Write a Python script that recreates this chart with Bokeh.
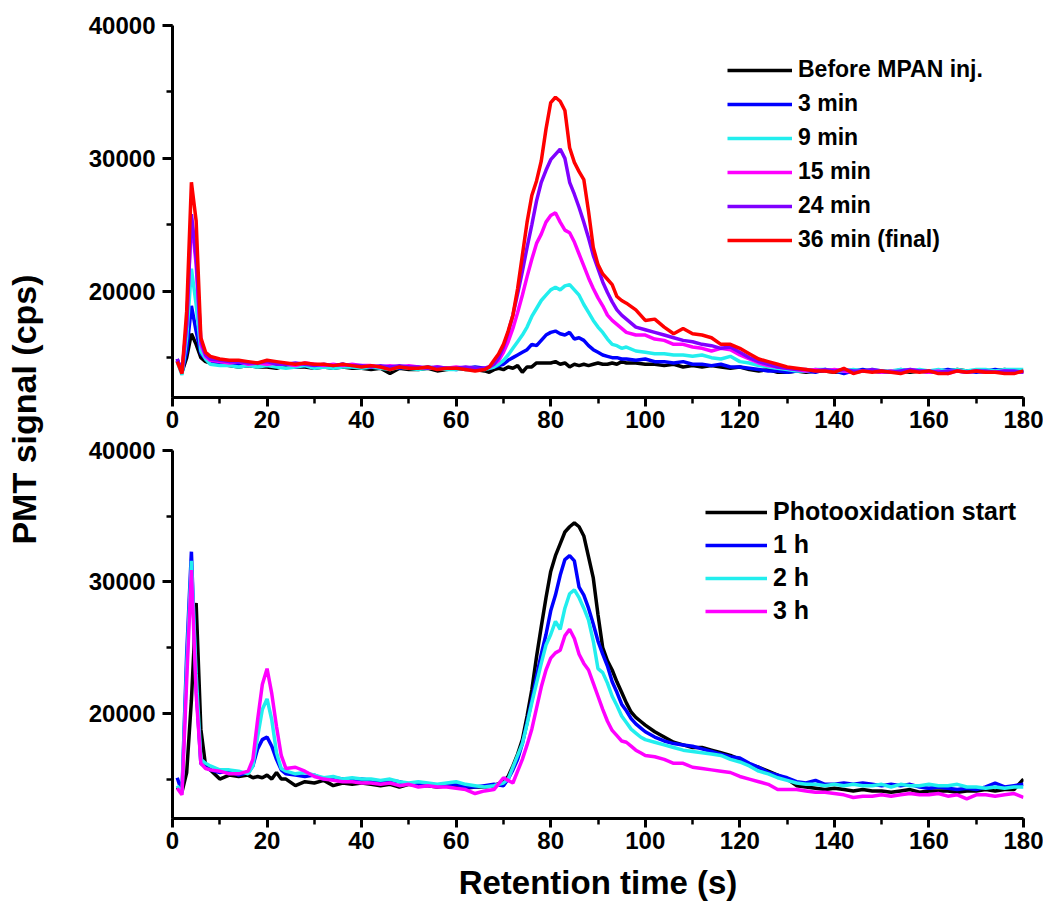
import math
from bokeh.plotting import figure
from bokeh.layouts import row, column
from bokeh.models import Range1d, SingleIntervalTicker, NumeralTickFormatter, Label
from bokeh.embed import file_html
from bokeh.resources import INLINE

# ---------------- data (retention time in s, PMT signal in cps) ----------------
x_top = list(range(1, 8)) + list(range(8, 67, 2)) + list(range(67, 96)) + list(range(96, 181, 2))

top_before = [14800, 13900, 15000, 16800, 16000, 15000, 14700,
              14600, 14500, 14400, 14300, 14400, 14300, 14300, 14200, 14400, 14300,
              14300, 14200, 14300, 14200, 14300, 14200, 14200, 14100, 14200, 13800,
              14200, 14100, 14100, 14200, 14000, 14100, 14200, 14100, 14100, 14000,
              13900, 14100, 14200, 14100, 14300, 14200, 14400, 13900, 14300, 14300,
              14600, 14600, 14600, 14600, 14700, 14500, 14600, 14300, 14500, 14400,
              14500, 14400, 14500, 14600, 14500, 14500, 14600, 14500, 14700,
              14600, 14600, 14500, 14500, 14400, 14500, 14300, 14400, 14300, 14400,
              14300, 14200, 14300, 14100, 14000, 14100, 13900, 13900, 14000, 13900,
              14000, 14000, 13900, 14000, 13900, 14000, 14000, 13900, 14000, 14000,
              13900, 14000, 14000, 13900, 14000, 14100, 14000, 14000, 13900, 14000,
              14100, 14000, 13900]
top_3min = [14900, 13900, 15500, 18900, 17000, 15300, 14900,
            14700, 14600, 14500, 14500, 14400, 14600, 14500, 14400, 14500, 14300,
            14400, 14400, 14300, 14400, 14500, 14300, 14300, 14400, 14200, 14300,
            14200, 14300, 14200, 14300, 14200, 14200, 14100, 14200, 14300, 14200,
            14200, 14300, 14400, 14500, 14800, 15000, 15200, 15400, 15600, 16000,
            15900, 16300, 16700, 16900, 17000, 16800, 16700, 16900, 16400, 16500,
            16300, 15900, 15600, 15400, 15200, 15100, 15000, 15000, 14900,
            14900, 14800, 14900, 14700, 14700, 14600, 14700, 14500, 14500, 14400,
            14500, 14300, 14300, 14200, 14100, 14000, 14000, 13900, 14000, 14000,
            13900, 14100, 14000, 13800, 14000, 14100, 14000, 14000, 13900, 14100,
            14000, 14000, 13900, 14000, 14100, 14000, 14000, 13900, 14000, 14100,
            14000, 13900, 14000]
top_9min = [14700, 13700, 16500, 21700, 19000, 15500, 14900,
            14500, 14400, 14400, 14300, 14400, 14300, 14400, 14300, 14200, 14300,
            14400, 14200, 14300, 14200, 14300, 14300, 14200, 14300, 14200, 14100,
            14300, 14200, 14100, 14200, 14200, 14100, 14100, 14200, 14200, 14100,
            14200, 14300, 14500, 14800, 15200, 15700, 16200, 16700, 17300, 18100,
            18700, 19300, 19700, 20100, 20300, 20100, 20400, 20500, 20100, 19700,
            19000, 18400, 17800, 17300, 16900, 16400, 16000, 15900, 15700,
            15800, 15500, 15400, 15300, 15300, 15200, 15200, 15100, 15200, 15000,
            14900, 15100, 14700, 14600, 14400, 14300, 14200, 14100, 14000, 14000,
            14100, 14100, 14000, 14000, 14100, 14000, 14100, 14000, 14000, 14100,
            14000, 14100, 14000, 14100, 14000, 14100, 14000, 14100, 14100, 14000,
            14100, 14100, 14100]
top_15min = [14800, 13900, 17500, 25500, 22000, 16000, 15100,
             14800, 14700, 14600, 14700, 14500, 14600, 14500, 14600, 14500, 14400,
             14600, 14500, 14400, 14500, 14400, 14500, 14400, 14400, 14300, 14400,
             14300, 14400, 14300, 14200, 14300, 14200, 14300, 14200, 14100, 14200,
             14300, 14500, 14800, 15400, 16200, 17200, 18400, 19700, 21100, 22400,
             23600, 24300, 25200, 25700, 25900, 25200, 24600, 24400, 23700, 22800,
             21900, 21000, 20200, 19500, 18900, 18200, 17800, 17500, 17200,
             16900, 16700, 16700, 16400, 16300, 16000, 16000, 15800, 15700, 15500,
             15700, 15600, 15200, 14900, 14600, 14400, 14300, 14200, 14100, 14000,
             14100, 14000, 14100, 14000, 13900, 14000, 14000, 13900, 14000, 13900,
             14100, 14000, 13900, 14000, 13800, 14000, 13900, 14000, 13900, 13900,
             14000, 13900, 13900]
top_24min = [14900, 13900, 17500, 25800, 22500, 16300, 15200,
             14900, 14800, 14700, 14700, 14600, 14600, 14700, 14500, 14500, 14600,
             14500, 14400, 14500, 14400, 14500, 14400, 14400, 14300, 14400, 14300,
             14400, 14300, 14300, 14200, 14300, 14200, 14200, 14300, 14200, 14200,
             14300, 14500, 15000, 15800, 16900, 18200, 19800, 21500, 23300, 25000,
             26800, 28200, 29100, 29900, 30300, 30700, 30000, 28200, 27300, 26300,
             25200, 24000, 22700, 21700, 20700, 19900, 19200, 18600, 18200,
             17900, 17300, 17100, 16900, 16700, 16500, 16300, 16200, 16000, 15900,
             15700, 15800, 15400, 15000, 14700, 14500, 14300, 14200, 14100, 14100,
             14000, 14100, 14000, 14100, 14000, 14000, 14100, 14000, 13900, 14000,
             14100, 14000, 14000, 13900, 14000, 14000, 13900, 14000, 14000, 13900,
             14000, 14000, 13900]
top_36min = [14700, 13800, 18500, 28200, 25300, 16500, 15400,
             15100, 14900, 14800, 14800, 14700, 14600, 14800, 14700, 14600, 14500,
             14600, 14500, 14500, 14400, 14500, 14400, 14300, 14400, 14300, 14100,
             14300, 14200, 14200, 14300, 14100, 14200, 14200, 14100, 14000, 14100,
             14300, 14800, 15300, 16000, 17000, 18200, 20200, 22700, 25200, 27200,
             28300, 29800, 32200, 34200, 34600, 34300, 33600, 30800, 29700, 29000,
             28400, 26000, 23300, 22000, 21300, 20900, 20500, 19600, 19300,
             19100, 18600, 17800, 17900, 17300, 16800, 17200, 16800, 16700, 16500,
             16000, 16000, 15700, 15300, 14900, 14700, 14500, 14300, 14200, 14100,
             14000, 14000, 13900, 14200, 13800, 14000, 13900, 14000, 13900, 13800,
             14000, 13900, 14000, 13800, 13800, 14000, 13900, 14000, 13900, 13900,
             13800, 13800, 14000]

x_bot = (list(range(1, 8)) + list(range(8, 17, 2)) + list(range(17, 24)) +
         list(range(24, 71, 2)) + list(range(71, 100)) + list(range(100, 181, 2)))

bot_start = [14400, 14000, 15500, 21000, 28400, 18800, 16000,
             15700, 15000, 15300, 15200, 15300,
             15100, 15200, 15100, 15300, 15000, 15500, 15000,
             15000, 14500, 14800, 14700, 14900, 14500, 14700, 14600, 14700, 14600,
             14500, 14600, 14400, 14600, 14500, 14500, 14400, 14500, 14500, 14300,
             14400, 14400, 14500, 14800,
             15200, 16000, 16900, 18000, 19800, 21800, 24300, 26600, 28800, 30800,
             32000, 32900, 33800, 34200, 34500, 34200, 33500, 31900, 30300, 27500,
             25000, 24000, 23300, 22400, 21600, 20800, 20100, 19700, 19400,
             19100, 18600, 18200, 17800, 17600, 17400, 17400, 17200, 17000, 16800,
             16500, 16100, 15900, 15600, 15300, 15000, 14500, 14400, 14300, 14200,
             14300, 14200, 14100, 14200, 14100, 14100, 14000, 14100, 14200, 14000,
             14100, 14100, 14100, 14000, 14100, 14100, 14200, 14100, 14200, 14200,
             15000]
bot_1h = [15100, 14000, 24500, 32300, 22000, 16200, 15900,
          15700, 15500, 15600, 15300, 15500,
          16000, 17300, 18000, 18200, 17500, 16500, 15700,
          15400, 15300, 15200, 15300, 15000, 15100, 15000, 14900, 15000, 14900,
          14800, 14900, 14800, 14600, 14700, 14600, 14500, 14500, 14600, 14400,
          14400, 14500, 14600, 14500,
          15000, 15700, 16500, 17700, 19300, 21000, 22800, 24500, 26000, 27800,
          29000, 30500, 31700, 32000, 31600, 29600, 29000, 28000, 26800, 25500,
          24500, 23600, 22400, 21600, 20700, 20200, 19600, 19200, 18900,
          18600, 18200, 17900, 17700, 17600, 17500, 17300, 17100, 16900, 16700,
          16600, 16200, 15900, 15500, 15300, 15100, 14800, 14700, 14900, 14600,
          14600, 14700, 14600, 14700, 14600, 14500, 14600, 14500, 14600, 14400,
          14300, 14400, 14300, 14200, 14300, 14200, 14400, 14700, 14400, 14500,
          14600]
bot_2h = [14500, 13900, 23500, 31600, 23000, 16500, 16200,
          16000, 15700, 15700, 15600, 15400,
          16000, 18200, 20300, 21100, 19500, 17000, 15800,
          15600, 15400, 15500, 15300, 15100, 15200, 15000, 15100, 15000, 15000,
          14900, 15000, 14800, 14700, 14800, 14700, 14600, 14700, 14800, 14600,
          14500, 14400, 14500, 14700,
          15000, 15900, 16800, 17700, 19200, 20800, 22300, 23800, 25200, 26000,
          27000, 26400, 28000, 29100, 29400, 28800, 28000, 27100, 25500, 23400,
          23100, 22300, 21300, 20600, 19800, 19300, 18800, 18500, 18200,
          18000, 17800, 17600, 17400, 17200, 17100, 17000, 16900, 16800, 16500,
          16300, 16000, 15600, 15400, 15100, 14900, 14700, 14600, 14600, 14500,
          14600, 14500, 14600, 14500, 14500, 14600, 14400, 14600, 14500, 14500,
          14600, 14500, 14500, 14600, 14400, 14400, 14300, 14400, 14300, 14400,
          14400]
bot_3h = [14300, 13800, 22500, 30900, 21500, 16200, 15800,
          15700, 15600, 15400, 15400, 15600,
          16500, 19500, 22200, 23400, 21500, 19000, 16800,
          15800, 15900, 15600, 15200, 15000, 14900, 14800, 14800, 14700, 14700,
          14600, 14700, 14500, 14600, 14400, 14500, 14400, 14400, 14300, 14200,
          13900, 14100, 14200, 15100,
          14900, 14700, 15600, 16500, 17600, 18800, 20400, 22000, 23300, 24200,
          24600, 24800, 25900, 26400, 25700, 24500, 23800, 23300, 22300, 21300,
          20300, 19400, 18700, 18300, 17900, 17800, 17500, 17200, 17000,
          16800, 16700, 16500, 16200, 16200, 15900, 15800, 15700, 15600, 15500,
          15200, 15000, 14800, 14600, 14200, 14200, 14200, 14100, 14000, 14000,
          13900, 13800, 13600, 13700, 13700, 13800, 13700, 13800, 13900, 13800,
          13800, 13900, 13700, 13800, 13500, 13800, 13800, 13700, 13800, 13900,
          13600]

top_labels = ["Before MPAN inj.", "3 min", "9 min", "15 min", "24 min", "36 min (final)"]
top_colors = ["#000000", "#0000FF", "#22EEEE", "#FF00FF", "#8000FF", "#FF0000"]
bot_labels = ["Photooxidation start", "1 h", "2 h", "3 h"]
bot_colors = ["#000000", "#0000FF", "#22EEEE", "#FF00FF"]

FONT = "Liberation Sans"
FRAME_W = 851
LAB_W = 68


def make_panel(frame_h, top, bottom):
    p = figure(frame_width=FRAME_W, frame_height=frame_h,
               x_range=Range1d(0, 180), y_range=Range1d(12000, 40000),
               output_backend="svg", toolbar_location=None,
               min_border_left=104, min_border_right=20,
               min_border_top=top, min_border_bottom=bottom)
    p.outline_line_color = None
    p.xgrid.visible = False
    p.ygrid.visible = False
    p.background_fill_color = "white"
    p.border_fill_color = "white"
    p.xaxis.ticker = SingleIntervalTicker(interval=20, num_minor_ticks=2)
    p.yaxis.ticker = SingleIntervalTicker(interval=10000, num_minor_ticks=2)
    p.yaxis.formatter = NumeralTickFormatter(format="0")
    for ax in (p.xaxis[0], p.yaxis[0]):
        ax.axis_line_width = 3
        ax.axis_line_color = "black"
        ax.major_tick_line_width = 3
        ax.minor_tick_line_width = 2.5
        ax.major_tick_line_color = "black"
        ax.minor_tick_line_color = "black"
        ax.major_tick_in = 0
        ax.minor_tick_in = 0
        ax.minor_tick_out = 6
        ax.major_label_text_font = FONT
        ax.major_label_text_font_style = "bold"
        ax.major_label_text_font_size = "24px"
        ax.major_label_text_color = "black"
    p.xaxis.major_tick_out = 9
    p.xaxis.major_label_standoff = 4
    p.yaxis.major_tick_out = 10
    p.yaxis.major_label_standoff = 7
    return p


def style_legend(p, loc, glyph_w, size, spacing):
    lg = p.legend[0]
    lg.location = loc
    lg.border_line_color = None
    lg.background_fill_alpha = 0
    lg.padding = 0
    lg.margin = 0
    lg.spacing = spacing
    lg.glyph_width = glyph_w
    lg.glyph_height = 20
    lg.label_height = 20
    lg.label_standoff = 6
    lg.label_text_font = FONT
    lg.label_text_font_style = "bold"
    lg.label_text_font_size = size
    lg.label_text_color = "black"


# ---------------- top panel ----------------
P1_TOP, P1_BOT = 25, 38
p1 = make_panel(372, P1_TOP, P1_BOT)
for ys, lab, col in zip([top_before, top_3min, top_9min, top_15min, top_24min, top_36min],
                        top_labels, top_colors):
    p1.line(x_top, ys, line_color=col, line_width=3.5, legend_label=lab)
style_legend(p1, (555, 144), 65, "23px", 7)

# ---------------- bottom panel ----------------
P2_TOP, P2_BOT = 15, 92
p2 = make_panel(368, P2_TOP, P2_BOT)
for ys, lab, col in zip([bot_start, bot_1h, bot_2h, bot_3h], bot_labels, bot_colors):
    p2.line(x_bot, ys, line_color=col, line_width=3.5, legend_label=lab)
style_legend(p2, (533, 193), 62, "25px", 4)
p2.xaxis.axis_label = "Retention time (s)"
p2.xaxis.axis_label_text_font = FONT
p2.xaxis.axis_label_text_font_style = "bold"
p2.xaxis.axis_label_text_font_size = "33px"
p2.xaxis.axis_label_text_color = "black"
p2.xaxis.axis_label_standoff = 12

# ---------------- shared y-axis title ----------------
H = (P1_TOP + 372 + P1_BOT) + (P2_TOP + 368 + P2_BOT)
lab = figure(width=LAB_W, height=H, x_range=Range1d(0, 1), y_range=Range1d(0, 1),
             output_backend="svg", toolbar_location=None, min_border=0,
             x_axis_location=None, y_axis_location=None)
lab.outline_line_color = None
lab.xgrid.visible = False
lab.ygrid.visible = False
lab.add_layout(Label(x=23, y=H - 409, x_units="screen", y_units="screen",
                     text="PMT signal (cps)", angle=math.pi / 2,
                     text_align="center", text_baseline="middle",
                     text_font=FONT, text_font_style="bold",
                     text_font_size="34px", text_color="black"))

layout = row(lab, column(p1, p2))
open("out.html", "w").write(file_html(layout, INLINE))
